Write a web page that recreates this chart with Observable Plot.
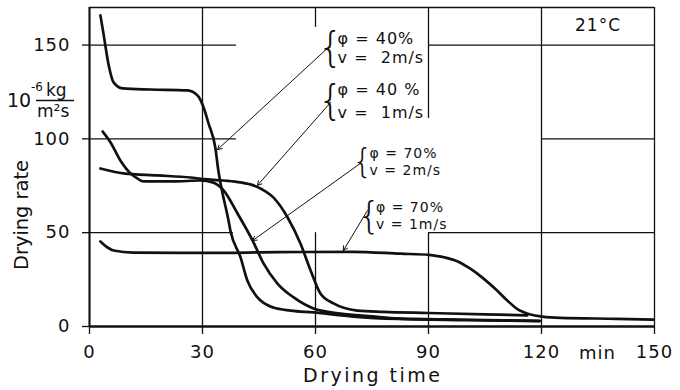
<!DOCTYPE html>
<html><head><meta charset="utf-8">
<script src="https://cdn.jsdelivr.net/npm/d3@7"></script>
<script src="https://cdn.jsdelivr.net/npm/@observablehq/plot@0.6"></script>
<style>
body{margin:0;background:#fff;}
#chart svg{font-family:"DejaVu Sans",sans-serif;}
</style></head><body><div id="chart"></div>
<script>
// ---- data ----
const xTicks = [0, 30, 60, 90, 120, 150];
const yTicks = [0, 50, 100, 150];

// phi = 40%, v = 2 m/s
const timeA = [2.9, 3.7, 5.0, 6.4, 8.8, 16.2, 26.0, 28.7, 30.3, 31.6, 33.4, 34.2, 34.8, 36.9, 37.4, 40.1, 41.9, 44.6, 48.8, 53.4, 59.5, 70, 82, 100, 119.5];
const rateA = [165.8, 156.2, 140.2, 130.1, 126.9, 126.3, 125.8, 123.1, 116.7, 108.2, 95.4, 83.2, 76.2, 56.5, 51.2, 36.8, 24.5, 15.5, 10.1, 8.5, 7.5, 5.3, 4.0, 3.4, 2.9];

// phi = 40%, v = 1 m/s
const timeB = [2.9, 9.0, 18.1, 26.8, 30.3, 35.6, 40.1, 43.5, 45.9, 48.8, 52.6, 56.0, 58.7, 61.3, 64.8, 71.1, 78, 90, 105, 116.2];
const rateB = [84.2, 81.6, 80.5, 79.4, 78.6, 77.8, 76.8, 75.2, 73.0, 68.8, 58.1, 44.2, 29.9, 17.6, 12.3, 8.5, 7.8, 7.2, 6.5, 5.9];

// phi = 70%, v = 2 m/s
const timeC = [3.5, 5.6, 8.2, 10.9, 12.7, 14.3, 22.3, 29.5, 32.7, 34.2, 35.6, 39.3, 43.3, 46.2, 49.9, 54.2, 59.5, 66.6, 75, 82, 100, 119.5];
const rateC = [103.9, 98.1, 88.5, 81.6, 78.9, 77.3, 77.3, 77.8, 76.8, 75.2, 72.5, 60.2, 45.8, 33.6, 22.9, 15.5, 9.6, 6.9, 5.4, 4.3, 3.6, 3.0];

// phi = 70%, v = 1 m/s
const timeD = [2.9, 4.8, 6.4, 11.7, 30, 50, 70, 82.6, 90.1, 94.1, 97.6, 101.1, 104.7, 108.2, 110.9, 113.5, 117.1, 120.2, 125.0, 140, 149.7];
const rateD = [45.3, 42.1, 40.5, 39.4, 39.2, 39.6, 39.8, 38.8, 38.2, 36.9, 34.8, 30.8, 25.4, 19.2, 13.9, 9.4, 6.4, 5.3, 4.6, 4.1, 3.7];

const labelPhi = ["φ = 40%", "φ = 40 %", "φ = 70%", "φ = 70%"];
const labelV = ["v =  2m/s", "v =  1m/s", "v = 2m/s", "v = 1m/s"];
const tempLabel = "21°C";

// ---- layout of annotations (data units) ----
const leaders = [
  {x1: 63.4, y1: 148.7, x2: 34.0, y2: 94.3},
  {x1: 64.0, y1: 119.4, x2: 44.6, y2: 75.2},
  {x1: 71.9, y1: 86.9, x2: 43.3, y2: 45.8},
  {x1: 73.8, y1: 61.8, x2: 67.4, y2: 40.5}
];
const labelLayout = [
  {bx: 64.0, tx: 64.8, y1: 153.5, y2: 143.3, bsize: 40, fsize: 16},
  {bx: 64.0, tx: 64.8, y1: 126.3, y2: 113.8, bsize: 40, fsize: 16},
  {bx: 72.5, tx: 73.3, y1: 92.0, y2: 83.0, bsize: 33, fsize: 14},
  {bx: 74.2, tx: 75.0, y1: 63.4, y2: 54.4, bsize: 38, fsize: 14}
];
const hSegs = [
  {y: 150, x1: 0, x2: 39}, {y: 150, x1: 90, x2: 150},
  {y: 100, x1: 0, x2: 39}, {y: 100, x1: 120, x2: 150},
  {y: 50, x1: 0, x2: 38.2}, {y: 50, x1: 90, x2: 150},
  {y: 170, x1: 0, x2: 150}
];
const vSegs = [
  {x: 30, y1: 0, y2: 170},
  {x: 60, y1: 0, y2: 50}, {x: 60, y1: 159.4, y2: 170},
  {x: 90, y1: 0, y2: 50}, {x: 90, y1: 110.9, y2: 170},
  {x: 120, y1: 0, y2: 170},
  {x: 150, y1: 0, y2: 170},
  {x: 0, y1: 0, y2: 170}
];

const series = [[timeA, rateA], [timeB, rateB], [timeC, rateC], [timeD, rateD]];
const lineMarks = series.map(([t, r]) =>
  Plot.line(t.map((d, i) => ({t: d, r: r[i]})), {
    x: "t", y: "r", curve: "monotone-x", stroke: "#111", strokeWidth: 2.7,
    strokeLinecap: "round", strokeLinejoin: "round"
  }));

const textMarks = [];
labelLayout.forEach((L, i) => {
  textMarks.push(Plot.text([labelPhi[i]], {x: L.tx, y: L.y1, text: d => d, textAnchor: "start", fontSize: L.fsize, fill: "#111", dx: 4}));
  textMarks.push(Plot.text([labelV[i]], {x: L.tx, y: L.y2, text: d => d, textAnchor: "start", fontSize: L.fsize, fill: "#111", dx: 4}));
  textMarks.push(Plot.text(["{"], {x: L.bx, y: (L.y1 + L.y2) / 2, text: d => d, textAnchor: "middle", fontSize: L.bsize, fontWeight: 200, fill: "#111"}));
});

const plot = Plot.plot({
  width: 680, height: 390,
  marginLeft: 89, marginRight: 26, marginTop: 7, marginBottom: 64,
  x: {domain: [0, 150]},
  y: {domain: [0, 170]},
  style: {fontFamily: "DejaVu Sans", fontSize: "18px", color: "#111", background: "#fff"},
  marks: [
    Plot.ruleY(hSegs, {y: "y", x1: "x1", x2: "x2", stroke: "#111", strokeWidth: 1.3}),
    Plot.ruleX(vSegs, {x: "x", y1: "y1", y2: "y2", stroke: "#111", strokeWidth: 1.3}),
    Plot.ruleX([0], {stroke: "#111", strokeWidth: 2}),
    Plot.ruleY([0], {stroke: "#111", strokeWidth: 2.6}),
    Plot.axisX({ticks: xTicks, tickSize: 8, tickPadding: 11, label: null, strokeWidth: 1.3,
      tickFormat: d => String(d)}),
    Plot.axisY({ticks: yTicks, tickSize: 7, tickPadding: 12, label: null, strokeWidth: 1.3}),
    ...lineMarks,
    Plot.arrow(leaders, {x1: "x1", y1: "y1", x2: "x2", y2: "y2", stroke: "#111", strokeWidth: 1, headLength: 7, bend: 0}),
    ...textMarks,
    Plot.text([tempLabel], {x: 135, y: 160.5, text: d => d, fontSize: 17, fill: "#111"})
  ]
});
document.getElementById("chart").appendChild(plot);
const svg = d3.select(plot);
svg.selectAll("text").filter(function() { return this.textContent.startsWith("φ") || this.textContent.startsWith("v ="); })
  .attr("letter-spacing", 1);
svg.selectAll("text").filter(function() { return this.textContent === tempLabel; }).attr("letter-spacing", 1);
svg.selectAll("[aria-label^='x-axis tick label'] text, [aria-label^='y-axis tick label'] text").attr("letter-spacing", 1);

// ---- extra axis texts ----
const sx = plot.scale("x");
const addText = (x, y, size, s) => svg.append("text").attr("x", x).attr("y", y)
  .attr("text-anchor", "start").attr("font-size", size).attr("fill", "#111").text(s);
svg.append("text").attr("x", sx.apply(135)).attr("y", 359).attr("text-anchor", "middle")
  .attr("font-size", 18).attr("fill", "#111").attr("letter-spacing", 1).text("min");
svg.append("text").attr("x", 371.5).attr("y", 382).attr("text-anchor", "middle")
  .attr("font-size", 19).attr("fill", "#111").attr("textLength", 137).attr("lengthAdjust", "spacing")
  .text("Drying time");
svg.append("text").attr("transform", "translate(28,215) rotate(-90)").attr("text-anchor", "middle")
  .attr("font-size", 19).attr("fill", "#111").attr("textLength", 110).attr("lengthAdjust", "spacingAndGlyphs")
  .text("Drying rate");
// unit: 10^-6 kg / (m² s)
addText(7, 107, 19, "10");
addText(31, 91, 12, "-6");
addText(46, 96, 17, "kg");
svg.append("line").attr("x1", 36).attr("x2", 74).attr("y1", 100.5).attr("y2", 100.5).attr("stroke", "#111").attr("stroke-width", 1.6);
addText(37, 117, 17, "m²s");
</script></body></html>
